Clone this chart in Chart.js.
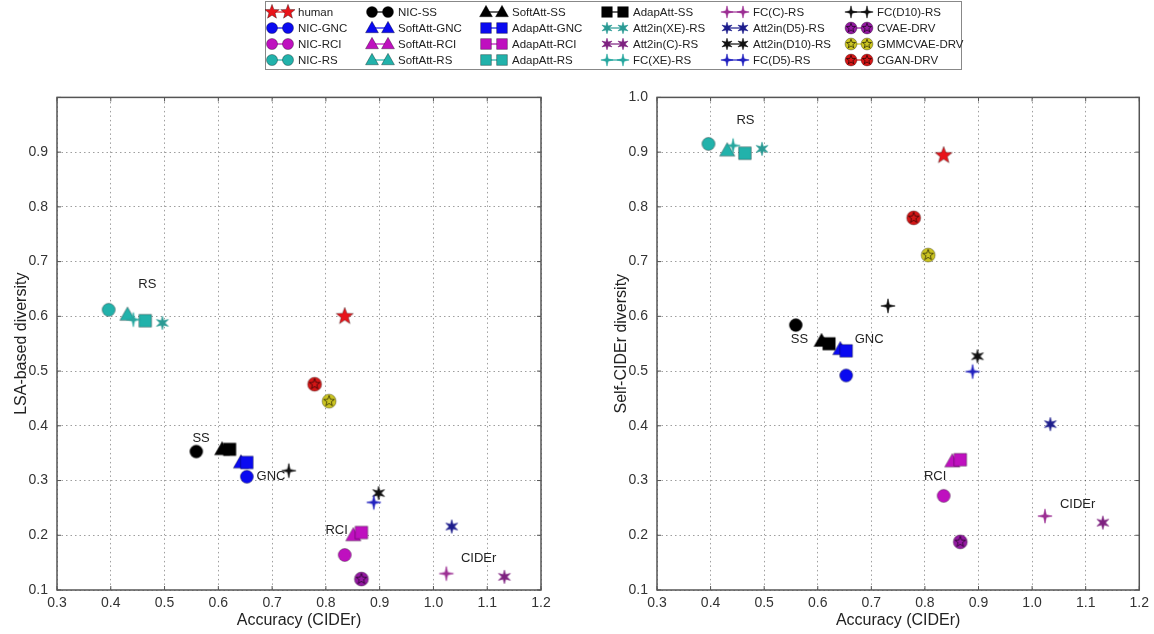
<!DOCTYPE html>
<html>
<head>
<meta charset="utf-8">
<script src="https://cdn.jsdelivr.net/npm/chart.js@4.4.1/dist/chart.umd.min.js"></script>
<style>
body{margin:0;background:#fff;width:1154px;height:634px;overflow:hidden;position:relative;font-family:"Liberation Sans",Arial,sans-serif}
#legend{position:absolute;left:265px;top:1px;width:697px;height:69px;border:1px solid #888;box-sizing:border-box;background:#fff}
.item{position:absolute;height:16px;display:flex;align-items:center;font-size:11.5px;color:#222;white-space:nowrap}
.item canvas{margin-right:3px}
.box{position:absolute}
</style>
</head>
<body>
<div id="legend"></div>
<div class="box" style="left:0;top:80px;width:560px;height:554px"><canvas id="lsa"></canvas></div>
<div class="box" style="left:600px;top:80px;width:554px;height:554px"><canvas id="self"></canvas></div>
<script>
// model names (legend order, column by column)
const models = ['human','NIC-GNC','NIC-RCI','NIC-RS','NIC-SS','SoftAtt-GNC','SoftAtt-RCI','SoftAtt-RS',
  'SoftAtt-SS','AdapAtt-GNC','AdapAtt-RCI','AdapAtt-RS','AdapAtt-SS','Att2in(XE)-RS','Att2in(C)-RS','FC(XE)-RS',
  'FC(C)-RS','Att2in(D5)-RS','Att2in(D10)-RS','FC(D5)-RS','FC(D10)-RS','CVAE-DRV','GMMCVAE-DRV','CGAN-DRV']

// x: accuracy (CIDEr), same for both plots
const accuracy = [0.835,0.653,0.835,0.396,0.559,0.642,0.851,0.431,
  0.607,0.653,0.866,0.464,0.621,0.496,1.132,0.442,
  1.024,1.034,0.898,0.889,0.731,0.866,0.806,0.779]

// y left: LSA-based diversity
const lsaDiversity = [0.600,0.307,0.164,0.612,0.353,0.333,0.200,0.603,
  0.357,0.333,0.205,0.592,0.357,0.588,0.124,0.594,
  0.130,0.216,0.277,0.260,0.318,0.120,0.445,0.476]

// y right: Self-CIDEr diversity
const selfCiderDiversity = [0.894,0.492,0.272,0.915,0.584,0.540,0.335,0.903,
  0.555,0.537,0.338,0.898,0.550,0.906,0.223,0.912,
  0.235,0.403,0.527,0.499,0.619,0.188,0.712,0.780]

const xTicks = [0.3,0.4,0.5,0.6,0.7,0.8,0.9,1.0,1.1,1.2]
const yTicks = [0.1,0.2,0.3,0.4,0.5,0.6,0.7,0.8,0.9,1.0]

// group labels written inside the plots
const lsaNotes = [['RS',0.468,0.658],['SS',0.568,0.377],['GNC',0.698,0.307],['RCI',0.820,0.208],['CIDEr',1.084,0.158]]
const selfNotes = [['RS',0.465,0.958],['SS',0.566,0.557],['GNC',0.696,0.557],['RCI',0.819,0.308],['CIDEr',1.085,0.257]]

// ---------- marker styles ----------
function shapeOf(name){
  if(name=='human') return 'star5'
  if(name.startsWith('NIC')) return 'circle'
  if(name.startsWith('SoftAtt')) return 'triangle'
  if(name.startsWith('AdapAtt')) return 'square'
  if(name.startsWith('Att2in')) return 'star6'
  if(name.startsWith('FC')) return 'star4'
  return 'flower'
}
const colors = {
  'human':'#e8141a','GNC':'#0a0af0','RCI':'#bf10bf','RS':'#22b2ab','SS':'#000000',
  'Att2in(XE)-RS':'#2a9a94','FC(XE)-RS':'#27a79f','Att2in(C)-RS':'#7e2280','FC(C)-RS':'#9c2f93',
  'Att2in(D5)-RS':'#1d1d8c','FC(D5)-RS':'#2222c0','Att2in(D10)-RS':'#111111','FC(D10)-RS':'#111111',
  'CVAE-DRV':'#9418a2','GMMCVAE-DRV':'#cbc420','CGAN-DRV':'#d51616'
}
function colorOf(name){
  if(colors[name]) return colors[name]
  return colors[name.split('-')[1]]
}

function starPath(ctx,x,y,n,ro,ri){
  for(let i=0;i<2*n;i++){
    let r = i%2 ? ri : ro
    let a = -Math.PI/2 + i*Math.PI/n
    if(i==0) ctx.moveTo(x+r*Math.cos(a), y+r*Math.sin(a))
    else ctx.lineTo(x+r*Math.cos(a), y+r*Math.sin(a))
  }
  ctx.closePath()
}

function drawMarker(ctx,shape,color,x,y,s){
  ctx.save()
  ctx.fillStyle = color
  ctx.strokeStyle = 'rgba(0,0,0,0.55)'
  ctx.lineWidth = 0.6
  ctx.beginPath()
  if(shape=='circle') ctx.arc(x,y,6.5*s,0,Math.PI*2)
  else if(shape=='square') ctx.rect(x-6.3*s,y-6.3*s,12.6*s,12.6*s)
  else if(shape=='triangle'){ ctx.moveTo(x,y-7.8*s); ctx.lineTo(x+7.6*s,y+5.6*s); ctx.lineTo(x-7.6*s,y+5.6*s); ctx.closePath() }
  else if(shape=='star5') starPath(ctx,x,y,5,9*s,3.8*s)
  else if(shape=='star6'){ starPath(ctx,x,y,6,6.8*s,2.6*s); ctx.strokeStyle=color }
  else if(shape=='star4'){ starPath(ctx,x,y,4,7.2*s,1.9*s); ctx.strokeStyle=color }
  else if(shape=='flower') ctx.arc(x,y,7*s,0,Math.PI*2)
  ctx.fill()
  ctx.stroke()
  if(shape=='flower'){
    ctx.beginPath()
    starPath(ctx,x,y,5,5.6*s,2.3*s)
    ctx.strokeStyle='rgba(0,0,0,0.75)'
    ctx.lineWidth=0.8
    ctx.stroke()
  }
  ctx.restore()
}

function markerImage(name){
  let c = document.createElement('canvas')
  c.width = 22; c.height = 22
  drawMarker(c.getContext('2d'), shapeOf(name), colorOf(name), 11, 11, 1)
  return c
}

// ---------- legend ----------
const legendTextX = [298,398,512,633,753,877]
const legendRowY = [12,28,44,60]
let legend = document.getElementById('legend')
models.forEach((m,i)=>{
  let col = Math.floor(i/4), row = i%4
  let item = document.createElement('div')
  item.className = 'item'
  item.style.left = (legendTextX[col]-33-266)+'px'
  item.style.top = (legendRowY[row]-8-2)+'px'
  let c = document.createElement('canvas')
  c.width = 30; c.height = 16
  let ctx = c.getContext('2d')
  ctx.strokeStyle = colorOf(m); ctx.lineWidth = 1.2
  ctx.beginPath(); ctx.moveTo(7,8); ctx.lineTo(23,8); ctx.stroke()
  drawMarker(ctx, shapeOf(m), colorOf(m), 7, 8, 0.85)
  drawMarker(ctx, shapeOf(m), colorOf(m), 23, 8, 0.85)
  item.appendChild(c)
  let t = document.createElement('span')
  t.textContent = m
  item.appendChild(t)
  legend.appendChild(item)
})

// ---------- plugins ----------
const framePlugin = {
  id:'frame',
  beforeDatasetsDraw(chart){
    const {ctx, chartArea:a, scales} = chart
    ctx.save()
    ctx.strokeStyle = '#555'
    ctx.lineWidth = 1.5
    ctx.strokeRect(a.left, a.top, a.right-a.left, a.bottom-a.top)
    ctx.lineWidth = 1
    ctx.beginPath()
    xTicks.forEach(v=>{
      let px = scales.x.getPixelForValue(v)
      ctx.moveTo(px,a.bottom); ctx.lineTo(px,a.bottom-4)
      ctx.moveTo(px,a.top); ctx.lineTo(px,a.top+4)
    })
    yTicks.forEach(v=>{
      let py = scales.y.getPixelForValue(v)
      ctx.moveTo(a.left,py); ctx.lineTo(a.left+4,py)
      ctx.moveTo(a.right,py); ctx.lineTo(a.right-4,py)
    })
    ctx.stroke()
    ctx.restore()
  }
}

const notesPlugin = {
  id:'notes',
  afterDatasetsDraw(chart, args, opts){
    const {ctx, scales} = chart
    ctx.save()
    ctx.font = '13px "Liberation Sans", Arial, sans-serif'
    ctx.fillStyle = '#222'
    ctx.textAlign = 'center'
    ctx.textBaseline = 'middle'
    opts.notes.forEach(n=>{
      ctx.fillText(n[0], scales.x.getPixelForValue(n[1]), scales.y.getPixelForValue(n[2]))
    })
    ctx.restore()
  }
}

// ---------- charts ----------
function makeChart(id, yValues, yTitle, notes, showTop, padRight){
  const tickFont = {family:'"Liberation Sans", Arial, sans-serif', size:14}
  const titleFont = {family:'"Liberation Sans", Arial, sans-serif', size:16}
  return new Chart(document.getElementById(id),{
    type:'scatter',
    data:{
      datasets: models.map((m,i)=>({
        label:m,
        data:[{x:accuracy[i], y:yValues[i]}],
        pointStyle: markerImage(m),
        pointRadius:8,
        order:-i
      }))
    },
    options:{
      responsive:true,
      maintainAspectRatio:false,
      animation:false,
      events:[],
      layout:{padding:{top:17,right:padRight,bottom:0,left:0}},
      plugins:{legend:{display:false}, tooltip:{enabled:false}, notes:{notes:notes}},
      scales:{
        x:{
          type:'linear', min:0.3, max:1.2,
          afterBuildTicks:s=>{ s.ticks = xTicks.map(v=>({value:v})) },
          afterFit:s=>{ s.height = 44 },
          ticks:{callback:v=>v.toFixed(1), font:tickFont, color:'#333', padding:5, maxRotation:0, autoSkip:false},
          grid:{color:'rgba(0,0,0,0.38)', lineWidth:1, drawTicks:false},
          border:{display:false, dash:[1.5,3]},
          title:{display:true, text:'Accuracy (CIDEr)', font:titleFont, color:'#222', padding:{top:0,bottom:4}}
        },
        y:{
          type:'linear', min:0.1, max:1.0,
          afterBuildTicks:s=>{ s.ticks = yTicks.map(v=>({value:v})) },
          afterFit:s=>{ s.width = 57 },
          ticks:{callback:v=>(!showTop && v>0.95) ? '' : v.toFixed(1), font:tickFont, color:'#333', padding:9, autoSkip:false},
          grid:{color:'rgba(0,0,0,0.38)', lineWidth:1, drawTicks:false},
          border:{display:false, dash:[1.5,3]},
          title:{display:true, text:yTitle, font:titleFont, color:'#222', padding:{top:12,bottom:0}}
        }
      }
    },
    plugins:[framePlugin, notesPlugin]
  })
}

makeChart('lsa', lsaDiversity, 'LSA-based diversity', lsaNotes, false, 19)
makeChart('self', selfCiderDiversity, 'Self-CIDEr diversity', selfNotes, true, 14)
</script>
</body>
</html>
